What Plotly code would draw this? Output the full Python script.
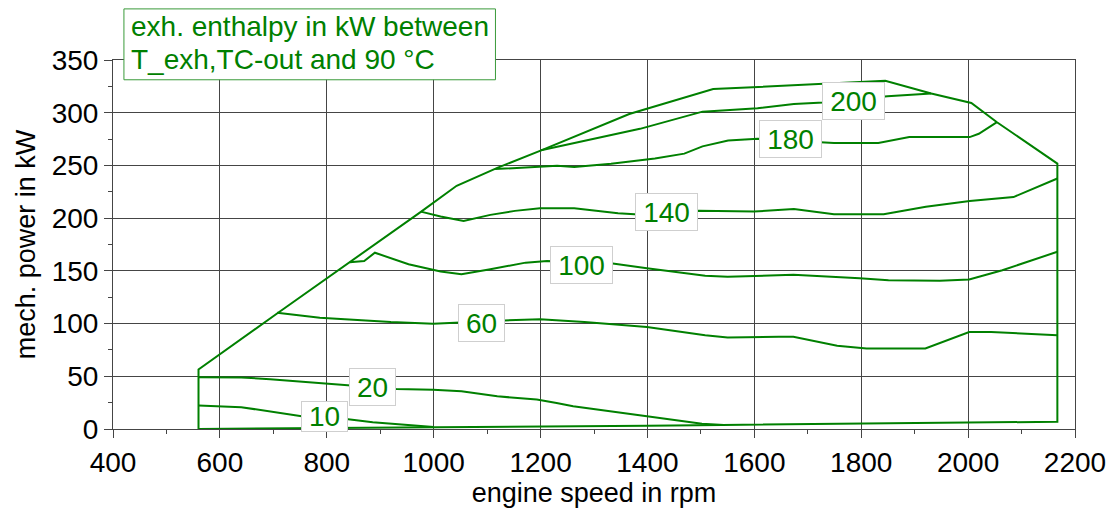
import plotly.graph_objects as go

# ---------------- data ----------------
boundary_rpm = [560, 560, 707, 843, 976, 1043, 1119, 1200, 1366, 1523, 1729, 1845,
                1931, 2006, 2054, 2167, 2167, 2002, 1797, 1604, 1540, 1400, 1230,
                1000, 850, 700, 560]
boundary_kw = [0, 56.4, 109.5, 158.2, 206.0, 230.7, 247.7, 264.0, 298.8, 322.4, 327.4,
               330.2, 318.3, 309.2, 291.0, 251.7, 6.9, 5.9, 5.0, 4.1, 3.8, 3.2, 2.6,
               1.6, 1.0, 0.5, 0]

c10_rpm = [560, 640, 753, 840, 886, 951, 1000]
c10_kw = [22.2, 20.7, 12.2, 9.3, 6.5, 3.7, 1.8]

c20_rpm = [560, 640, 694, 843, 930, 999, 1052, 1119, 1193, 1230, 1261, 1399, 1502, 1543]
c20_kw = [49.2, 48.8, 47.3, 41.0, 37.9, 37.3, 35.7, 31.0, 27.9, 24.7, 21.6, 12.2, 5.0, 3.8]

c60_rpm = [707, 787, 920, 999, 1132, 1199, 1282, 1399, 1508, 1550, 1646, 1673, 1755,
           1810, 1920, 2002, 2043, 2167]
c60_kw = [110.2, 105.5, 101.4, 99.9, 103.0, 104.0, 101.4, 96.7, 88.9, 86.7, 87.4, 87.4,
          78.9, 76.4, 76.4, 92.0, 92.0, 88.9]

c100_rpm = [843, 870, 890, 953, 1013, 1052, 1106, 1172, 1212, 1335, 1399, 1508, 1550,
            1673, 1797, 1851, 1947, 2002, 2064, 2167]
c100_kw = [158.2, 159.4, 167.2, 156.2, 149.3, 146.8, 151.5, 157.8, 159.4, 156.9, 152.5,
           145.3, 144.3, 146.2, 143.1, 141.2, 140.6, 141.8, 150.6, 168.1]

c140_rpm = [976, 1013, 1056, 1106, 1152, 1199, 1263, 1345, 1376, 1496, 1599, 1674,
            1749, 1842, 1921, 2003, 2085, 2167]
c140_kw = [206.2, 201.5, 197.4, 203.1, 206.9, 209.4, 209.4, 204.7, 203.7, 206.9, 206.2,
           208.7, 203.7, 203.7, 210.9, 216.3, 220.0, 237.6]

c180_rpm = [1115, 1231, 1263, 1332, 1414, 1469, 1503, 1551, 1606, 1729, 1749, 1832,
            1890, 2003, 2020, 2054]
c180_kw = [246.5, 249.6, 248.6, 251.7, 256.5, 261.2, 268.1, 273.7, 275.3, 272.2, 271.2,
           271.2, 276.9, 276.9, 280.0, 291.0]

c200_rpm = [1201, 1332, 1386, 1503, 1606, 1674, 1729, 1849, 1931]
c200_kw = [264.3, 278.4, 284.7, 301.0, 304.2, 308.3, 309.8, 315.5, 318.3]

label_text = ["10", "20", "60", "100", "140", "180", "200"]
label_rpm = [796, 886, 1089, 1276, 1436, 1667, 1786]
label_kw = [12.0, 39.4, 100.8, 155.4, 205.4, 275.3, 311.4]

x_ticks = [400, 600, 800, 1000, 1200, 1400, 1600, 1800, 2000, 2200]
y_ticks = [0, 50, 100, 150, 200, 250, 300, 350]

title_lines = ["exh. enthalpy in kW between", "T_exh,TC-out and 90 °C"]

# ---------------- figure ----------------
GREEN = "#008000"
GRID = "#454545"
FONT = "Liberation Sans, Arial, sans-serif"

fig = go.Figure()
series = [(boundary_rpm, boundary_kw), (c10_rpm, c10_kw), (c20_rpm, c20_kw),
          (c60_rpm, c60_kw), (c100_rpm, c100_kw), (c140_rpm, c140_kw),
          (c180_rpm, c180_kw), (c200_rpm, c200_kw)]
for xs, ys in series:
    fig.add_trace(go.Scatter(x=xs, y=ys, mode="lines",
                             line=dict(color=GREEN, width=2),
                             showlegend=False, hoverinfo="skip"))

for t, xr, yk in zip(label_text, label_rpm, label_kw):
    w = 45 if len(t) == 2 else 61
    h = 29 if t == "10" else 36
    fig.add_annotation(x=xr, y=yk, xref="x", yref="y", text=t, showarrow=False,
                       font=dict(family=FONT, size=28, color=GREEN),
                       bgcolor="white", bordercolor="#cfcfcf", borderwidth=1,
                       borderpad=0, width=w, height=h)

# title box (layout position in paper coordinates)
L, R, T, B = 113.3, 1081.7, 60.0, 433.3
def px(xp):
    return (xp - L) / (R - L)
def py(yp):
    return (B - yp) / (B - T)

fig.add_shape(type="rect", xref="paper", yref="paper",
              x0=px(124.3), x1=px(498.3), y0=py(80), y1=py(8.3),
              line=dict(color="#3a9a3a", width=1), fillcolor="white", layer="above")
for i, line in enumerate(title_lines):
    fig.add_annotation(x=px(129), y=py(26 + i * 33.5), xref="paper", yref="paper",
                       xanchor="left", yanchor="middle", text=line, showarrow=False,
                       font=dict(family=FONT, size=28, color=GREEN))

axis_common = dict(
    showgrid=True, gridcolor=GRID, gridwidth=1,
    showline=True, linecolor=GRID, linewidth=1, mirror=True,
    ticks="outside", ticklen=8, tickcolor=GRID, tickwidth=1,
    tickfont=dict(family=FONT, size=28, color="black"),
    zeroline=False,
)

fig.update_layout(
    width=1118, height=514,
    margin=dict(l=113, r=36, t=60, b=81),
    paper_bgcolor="white", plot_bgcolor="white",
    xaxis=dict(range=[400, 2200], tickvals=x_ticks,
               minor=dict(dtick=100, tick0=400, ticks="outside", ticklen=4,
                          tickcolor=GRID, showgrid=False),
               title=dict(text="engine speed in rpm", standoff=6,
                          font=dict(family=FONT, size=27, color="black")),
               **axis_common),
    yaxis=dict(range=[0, 350], tickvals=y_ticks,
               minor=dict(dtick=25, tick0=0, ticks="outside", ticklen=4,
                          tickcolor=GRID, showgrid=False),
               title=dict(text="mech. power in kW", standoff=8,
                          font=dict(family=FONT, size=27, color="black")),
               **axis_common),
)

fig.write_html("out.html")
